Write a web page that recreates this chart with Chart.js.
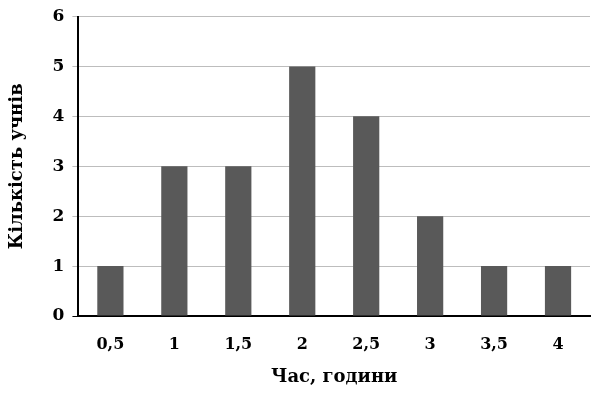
<!DOCTYPE html>
<html lang="uk">
<head>
<meta charset="UTF-8">
<title>Кількість учнів</title>
<script src="https://cdn.jsdelivr.net/npm/chart.js"></script>
<style>
  html, body { margin: 0; padding: 0; background: #fff; }
  .wrap { width: 597px; height: 396px; }
</style>
</head>
<body>
<div class="wrap"><canvas id="chart" width="597" height="396"></canvas></div>
<script>
const hours = ['0,5', '1', '1,5', '2', '2,5', '3', '3,5', '4'];
const pupils = [1, 3, 3, 5, 4, 2, 1, 1];
const yTicks = [0, 1, 2, 3, 4, 5, 6];

const font = 'DejaVu Serif';

new Chart(document.getElementById('chart'), {
    type: 'bar',
    data: {
        labels: hours,
        datasets: [{
            data: pupils,
            backgroundColor: '#595959',
            borderWidth: 0,
            categoryPercentage: 1,
            barPercentage: 0.41
        }]
    },
    options: {
        responsive: false,
        animation: false,
        layout: { padding: { top: 3, right: 7, left: 7, bottom: 8 } },
        plugins: { legend: { display: false }, tooltip: { enabled: false } },
        scales: {
            x: {
                afterFit: axis => { axis.height = 72; },
                grid: { display: false, drawTicks: false },
                border: { color: '#000', width: 2 },
                ticks: { color: '#000', padding: 19, font: { family: font, weight: 'bold', size: 16 } },
                title: { display: true, text: 'Час, години', color: '#000', padding: 0,
                    font: { family: font, weight: 'bold', size: 18 } }
            },
            y: {
                min: 0,
                max: 6,
                afterBuildTicks: axis => { axis.ticks = yTicks.map(v => ({ value: v })); },
                grid: {
                    color: '#bdbdbd',
                    tickLength: 6,
                    tickColor: ctx => ctx.tick && ctx.tick.value === 0 ? '#000' : '#bdbdbd'
                },
                border: { color: '#000', width: 2 },
                ticks: { color: '#000', padding: 8, font: { family: font, weight: 'bold', size: 17, lineHeight: 1 } },
                title: { display: true, text: 'Кількість учнів', color: '#000', padding: { top: 0, bottom: 16 },
                    font: { family: font, weight: 'bold', size: 18 } }
            }
        }
    }
});
</script>
</body>
</html>
